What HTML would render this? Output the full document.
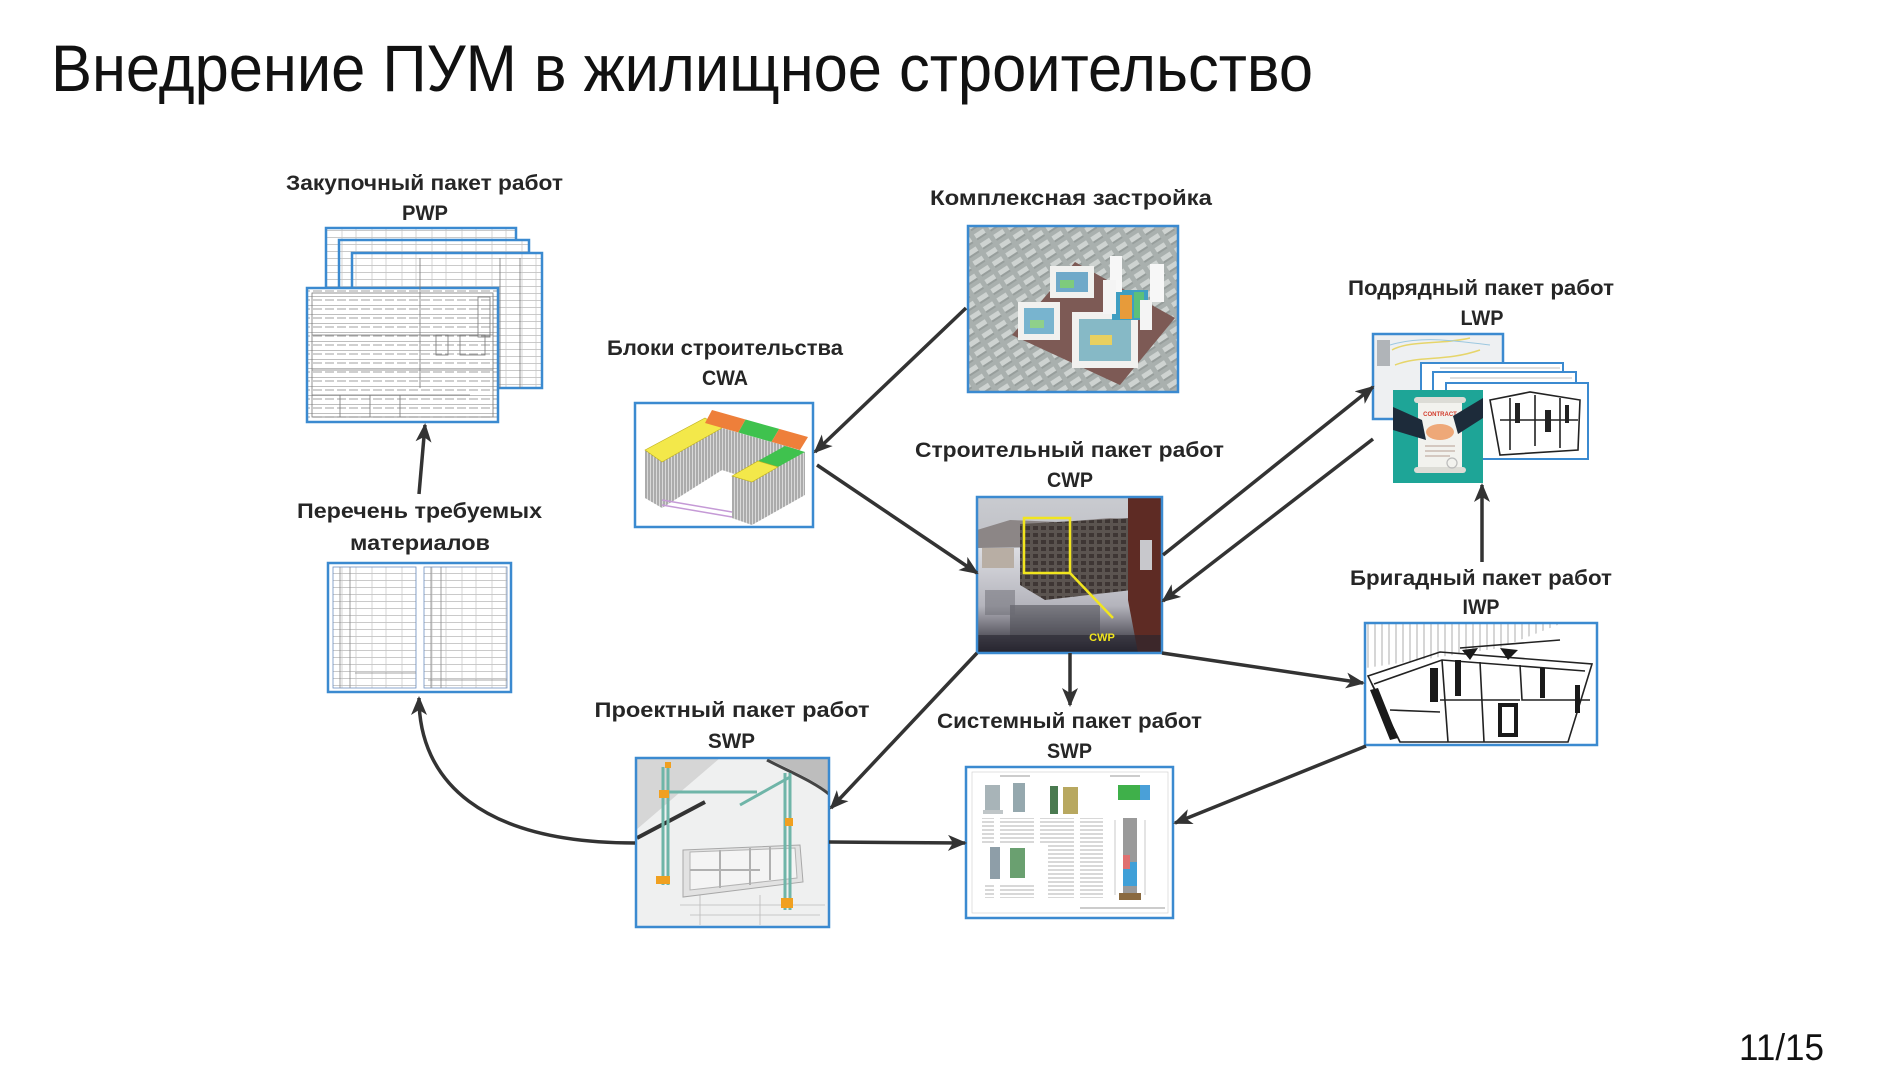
<!DOCTYPE html>
<html><head><meta charset="utf-8">
<style>
html,body{margin:0;padding:0;background:#fff;}
svg{display:block;}
.lb{font-family:"Liberation Sans",sans-serif;font-weight:bold;font-size:21px;fill:#262626;}
</style></head><body>
<svg width="1900" height="1068" viewBox="0 0 1900 1068" xmlns="http://www.w3.org/2000/svg">
<defs>
<marker id="ah" markerUnits="userSpaceOnUse" markerWidth="20" markerHeight="16" refX="17" refY="8" orient="auto" viewBox="0 0 20 16">
<path d="M0,0 L19,8 L0,16 L5,8 Z" fill="#333"/>
</marker>
<pattern id="tbl" width="30" height="7" patternUnits="userSpaceOnUse"><rect width="30" height="7" fill="#fff"/><path d="M0 6.5H30" stroke="#b9b9b9" stroke-width="0.8"/><path d="M12 0V7M26 0V7" stroke="#c4c4c4" stroke-width="0.7"/></pattern>
<pattern id="dense" width="24" height="9" patternUnits="userSpaceOnUse"><rect width="24" height="9" fill="#fff"/><path d="M1 3H10M13 3H22" stroke="#a0a0a0" stroke-width="0.9"/><path d="M0 8.5H24" stroke="#a8a8a8" stroke-width=".7"/></pattern>
<pattern id="city" width="16" height="11" patternUnits="userSpaceOnUse" patternTransform="rotate(-33)"><rect width="16" height="11" fill="#a9b0ae"/><rect x="1" y="1" width="11" height="5" fill="#ced3d1"/><rect x="1" y="6" width="11" height="2" fill="#979e9c"/></pattern>
<pattern id="txt" width="40" height="4" patternUnits="userSpaceOnUse"><path d="M0 2H34" stroke="#b0b0b0" stroke-width="1"/></pattern>
<pattern id="vl" width="7" height="10" patternUnits="userSpaceOnUse"><path d="M3 0V10" stroke="#999" stroke-width=".8"/></pattern>
<pattern id="fac" width="3" height="10" patternUnits="userSpaceOnUse"><rect width="3" height="10" fill="#d9d9d9"/><path d="M1 0V10" stroke="#7d7d7d" stroke-width="1"/></pattern>
<pattern id="win" width="8" height="7" patternUnits="userSpaceOnUse"><rect width="8" height="7" fill="#5b5450"/><rect x="1" y="1" width="5" height="4" fill="#3e3634"/></pattern>
<linearGradient id="sky" x1="0" y1="0" x2="0" y2="1"><stop offset="0" stop-color="#c9cbd0"/><stop offset="1" stop-color="#a9a8ae"/></linearGradient>
<linearGradient id="snow" x1="0" y1="0" x2="0" y2="1"><stop offset="0" stop-color="#dcdde2"/><stop offset="0.55" stop-color="#b4b4bc"/><stop offset="1" stop-color="#26242e"/></linearGradient>
<clipPath id="cwpc"><rect x="977" y="497" width="185" height="156"/></clipPath>
<clipPath id="kc"><rect x="968" y="226" width="210" height="166"/></clipPath>
<clipPath id="pc"><rect x="636" y="758" width="193" height="169"/></clipPath>
<clipPath id="ic"><rect x="1365" y="623" width="232" height="122"/></clipPath>
</defs>

<!-- Title -->
<text x="51" y="91" font-family="Liberation Sans, sans-serif" font-size="66" fill="#111" textLength="1262" lengthAdjust="spacingAndGlyphs">Внедрение ПУМ в жилищное строительство</text>

<!-- Page number -->
<text x="1739" y="1060" font-family="Liberation Sans, sans-serif" font-size="37" fill="#111" textLength="85" lengthAdjust="spacingAndGlyphs">11/15</text>

<!-- Labels -->
<text class="lb" x="424.5" y="190" text-anchor="middle" textLength="277" lengthAdjust="spacingAndGlyphs">Закупочный пакет работ</text>
<text class="lb" x="425" y="220" text-anchor="middle" textLength="46" lengthAdjust="spacingAndGlyphs">PWP</text>
<text class="lb" x="1071" y="205" text-anchor="middle" textLength="282" lengthAdjust="spacingAndGlyphs">Комплексная застройка</text>
<text class="lb" x="1481" y="295" text-anchor="middle" textLength="266" lengthAdjust="spacingAndGlyphs">Подрядный пакет работ</text>
<text class="lb" x="1482" y="325" text-anchor="middle" textLength="43" lengthAdjust="spacingAndGlyphs">LWP</text>
<text class="lb" x="725" y="355" text-anchor="middle" textLength="236" lengthAdjust="spacingAndGlyphs">Блоки строительства</text>
<text class="lb" x="725" y="385" text-anchor="middle" textLength="46" lengthAdjust="spacingAndGlyphs">CWA</text>
<text class="lb" x="1069.5" y="457" text-anchor="middle" textLength="309" lengthAdjust="spacingAndGlyphs">Строительный пакет работ</text>
<text class="lb" x="1070" y="487" text-anchor="middle" textLength="46" lengthAdjust="spacingAndGlyphs">CWP</text>
<text class="lb" x="419.5" y="518" text-anchor="middle" textLength="245" lengthAdjust="spacingAndGlyphs">Перечень требуемых</text>
<text class="lb" x="420" y="550" text-anchor="middle" textLength="140" lengthAdjust="spacingAndGlyphs">материалов</text>
<text class="lb" x="1481" y="585" text-anchor="middle" textLength="262" lengthAdjust="spacingAndGlyphs">Бригадный пакет работ</text>
<text class="lb" x="1481" y="614" text-anchor="middle" textLength="37" lengthAdjust="spacingAndGlyphs">IWP</text>
<text class="lb" x="732" y="717" text-anchor="middle" textLength="275" lengthAdjust="spacingAndGlyphs">Проектный пакет работ</text>
<text class="lb" x="731.5" y="748" text-anchor="middle" textLength="47" lengthAdjust="spacingAndGlyphs">SWP</text>
<text class="lb" x="1069.5" y="728" text-anchor="middle" textLength="265" lengthAdjust="spacingAndGlyphs">Системный пакет работ</text>
<text class="lb" x="1069.5" y="758" text-anchor="middle" textLength="45" lengthAdjust="spacingAndGlyphs">SWP</text>

<!-- PWP stack -->
<g stroke="#3b8ad0" stroke-width="2.5">
<rect x="326" y="228" width="190" height="80" fill="url(#tbl)"/>
<rect x="339" y="240" width="190" height="80" fill="url(#tbl)"/>
<rect x="352" y="253" width="190" height="135" fill="url(#tbl)"/>
<rect x="307" y="288" width="191" height="134" fill="url(#dense)"/>
</g>
<g fill="none" stroke="#777" stroke-width="0.8">
<rect x="312" y="293" width="181" height="124"/>
<rect x="478" y="297" width="12" height="40"/>
<rect x="436" y="335" width="12" height="20"/>
<rect x="460" y="335" width="25" height="20"/>
<path d="M312 335H493M312 370H493M312 395H470M340 395V417M370 395V417M400 395V417"/>
<path d="M420 258V388M500 258V388M520 258V388"/>
</g>

<!-- Комплексная застройка -->
<g clip-path="url(#kc)">
<rect x="968" y="226" width="210" height="166" fill="url(#city)"/>
<polygon points="1012,335 1075,262 1175,318 1120,385" fill="#7d5a55"/>
<rect x="1050" y="266" width="44" height="32" fill="#f1f1ef"/>
<rect x="1056" y="272" width="32" height="20" fill="#6fa9c9"/>
<rect x="1060" y="280" width="14" height="8" fill="#7ecb7c"/>
<rect x="1018" y="302" width="42" height="38" fill="#f1f1ef"/>
<rect x="1024" y="308" width="30" height="26" fill="#78b4cf"/>
<rect x="1030" y="320" width="14" height="8" fill="#8fd08a"/>
<rect x="1072" y="312" width="66" height="56" fill="#f1f1ef"/>
<rect x="1079" y="319" width="52" height="42" fill="#86b9c6"/>
<rect x="1090" y="335" width="22" height="10" fill="#e8d060"/>
<rect x="1112" y="290" width="36" height="30" fill="#3f9ec2"/>
<rect x="1120" y="295" width="12" height="24" fill="#e79b3a"/>
<rect x="1134" y="292" width="10" height="26" fill="#5bc07a"/>
<rect x="1110" y="256" width="12" height="36" fill="#f7f7f7"/>
<rect x="1150" y="264" width="14" height="38" fill="#f7f7f7"/>
<rect x="1103" y="280" width="13" height="34" fill="#f4f4f4"/>
<rect x="1140" y="300" width="12" height="30" fill="#f4f4f4"/>
</g>
<rect x="968" y="226" width="210" height="166" fill="none" stroke="#3b8ad0" stroke-width="2.5"/>

<!-- CWA -->
<rect x="635" y="403" width="178" height="124" fill="#fff" stroke="#3b8ad0" stroke-width="2.5"/>
<polygon points="662,462 722,428 722,470 662,508" fill="url(#fac)"/>
<polygon points="645,450 662,462 662,508 645,498" fill="url(#fac)"/>
<polygon points="645,450 705,418 722,428 662,462" fill="#f3e84a" stroke="#bfb020" stroke-width=".6"/>
<polygon points="722,428 800,450 800,495 722,470" fill="url(#fac)"/>
<polygon points="712,410 745.6,419.5 738.3,432.5 705,423" fill="#ee7f3a"/>
<polygon points="745.6,419.5 779.2,428.9 771.5,441.9 738.3,432.5" fill="#3fc24e"/>
<polygon points="779.2,428.9 808,437 800,450 771.5,441.9" fill="#ee7f3a"/>
<polygon points="752,482 805,452 805,495 752,525" fill="url(#fac)"/>
<polygon points="732,476 752,482 752,525 732,518" fill="url(#fac)"/>
<polygon points="785,446 805,452 778,467 758,461" fill="#3fc24e"/>
<polygon points="758,461 778,467 752,482 732,476" fill="#f3e84a" stroke="#bfb020" stroke-width=".6"/>
<path d="M662,500 L732,512 M662,505 L732,517" stroke="#c59ad6" stroke-width="1.5"/>

<!-- CWP photo -->
<g clip-path="url(#cwpc)">
<rect x="977" y="497" width="185" height="156" fill="url(#sky)"/>
<polygon points="977,530 1010,520 1060,522 1110,518 1140,520 1140,545 977,548" fill="#8c8686"/>
<rect x="977" y="548" width="185" height="105" fill="url(#snow)"/>
<polygon points="1020,524 1130,518 1132,590 1045,600 1020,585" fill="url(#win)"/>
<rect x="982" y="548" width="32" height="20" fill="#b8aea4"/>
<polygon points="1128,497 1162,497 1162,653 1138,653 1128,600" fill="#5e2b24"/>
<rect x="1140" y="540" width="12" height="30" fill="#c8c8cc"/>
<rect x="1010" y="605" width="90" height="35" fill="#4a4a52" opacity=".55"/>
<rect x="985" y="590" width="30" height="25" fill="#6a6a72" opacity=".5"/>
<rect x="977" y="635" width="185" height="18" fill="#26242e" opacity=".6"/>
<rect x="1024" y="518" width="46" height="55" fill="none" stroke="#f1e51e" stroke-width="2.5"/>
<path d="M1070,573 L1113,618" stroke="#f1e51e" stroke-width="2.5"/>
<text x="1102" y="641" text-anchor="middle" font-family="Liberation Sans, sans-serif" font-weight="bold" font-size="11" fill="#f1e51e">CWP</text>
</g>
<rect x="977" y="497" width="185" height="156" fill="none" stroke="#3b8ad0" stroke-width="2.5"/>

<!-- LWP -->
<rect x="1373" y="334" width="130" height="85" fill="#eef0f2" stroke="#3b8ad0" stroke-width="2.5"/>
<rect x="1377" y="340" width="13" height="26" fill="#b0b4b8"/>
<path d="M1392,350 C1410,340 1440,345 1470,338 M1395,365 C1420,355 1445,362 1480,350" stroke="#e6d56a" stroke-width="1.5" fill="none"/>
<path d="M1390,345 C1420,336 1450,340 1490,345" stroke="#9cc8e0" stroke-width="1" fill="none"/>
<g stroke="#3b8ad0" stroke-width="2">
<rect x="1421" y="363" width="142" height="60" fill="#fff"/>
<rect x="1433" y="372" width="143" height="60" fill="#fff"/>
<rect x="1446" y="383" width="142" height="76" fill="#fff"/>
</g>
<path d="M1440,368H1560M1450,378H1572" stroke="#aaa" stroke-width=".8"/>
<g stroke="#222" stroke-width="1.6" fill="none">
<path d="M1490,400 L1530,392 L1580,400 L1578,450 L1500,455 Z"/>
<path d="M1510,398 V450 M1535,395 V446 M1560,398 V448 M1500,420 H1578"/>
</g>
<g fill="#222"><rect x="1515" y="403" width="5" height="20"/><rect x="1545" y="410" width="6" height="22"/><rect x="1565" y="405" width="4" height="18"/></g>
<rect x="1393" y="390" width="90" height="93" fill="#1ea597"/>
<rect x="1418" y="400" width="44" height="70" fill="#f2f2ee"/>
<rect x="1414" y="397" width="52" height="6" rx="3" fill="#dcdcd6"/>
<rect x="1414" y="467" width="52" height="6" rx="3" fill="#dcdcd6"/>
<text x="1440" y="416" text-anchor="middle" font-family="Liberation Sans, sans-serif" font-weight="bold" font-size="6" fill="#d23a2a">CONTRACT</text>
<path d="M1425,446H1455M1425,451H1455M1425,456H1450" stroke="#c9b9b0" stroke-width="1.5"/>
<polygon points="1393,407 1422,420 1426,440 1393,430" fill="#1d2b3a"/>
<polygon points="1483,398 1483,418 1458,434 1453,416" fill="#1d2b3a"/>
<ellipse cx="1440" cy="432" rx="14" ry="8" fill="#eea878"/>
<circle cx="1452" cy="463" r="5" fill="none" stroke="#bbb" stroke-width="1.2"/>

<!-- Перечень -->
<rect x="328" y="563" width="183" height="129" fill="#fff" stroke="#3b8ad0" stroke-width="2.5"/>
<rect x="333" y="567" width="83" height="121" fill="url(#tbl)" stroke="#6c8fc0" stroke-width=".8"/>
<rect x="424" y="567" width="83" height="121" fill="url(#tbl)" stroke="#6c8fc0" stroke-width=".8"/>
<path d="M340,567V688M431,567V688M350,567V688M441,567V688M355,673H416M428,680H507" stroke="#888" stroke-width=".8"/>

<!-- IWP -->
<rect x="1365" y="623" width="232" height="122" fill="#fff"/>
<g clip-path="url(#ic)">
<polygon points="1366,624 1560,624 1500,648 1366,668" fill="url(#vl)"/>
<g stroke="#222" stroke-width="1.6" fill="none">
<polygon points="1368,676 1440,652 1592,664 1568,742 1400,742"/>
<polyline points="1374,684 1442,660 1585,671"/>
<path d="M1442,660 L1448,742 M1480,662 L1484,742 M1520,665 L1522,700 L1590,700 M1440,700 L1520,700 M1400,742 L1372,684"/>
<path d="M1460,648 L1560,640 M1390,710 L1440,712"/>
</g>
<g fill="#1a1a1a">
<polygon points="1370,690 1378,688 1398,738 1390,740"/>
<rect x="1430" y="668" width="8" height="34"/>
<rect x="1455" y="660" width="6" height="36"/>
<polygon points="1462,650 1478,648 1470,660"/>
<polygon points="1500,648 1518,650 1508,660"/>
<rect x="1500" y="705" width="16" height="30" fill="none" stroke="#1a1a1a" stroke-width="4"/>
<rect x="1540" y="668" width="5" height="30"/>
<rect x="1575" y="685" width="5" height="28"/>
</g>
</g>
<rect x="1365" y="623" width="232" height="122" fill="none" stroke="#3b8ad0" stroke-width="2.5"/>

<!-- Project SWP -->
<g clip-path="url(#pc)">
<rect x="636" y="758" width="193" height="169" fill="#eff0f0"/>
<polygon points="636,758 720,758 636,830" fill="#d6d6d6"/>
<path d="M637,838 L705,802" stroke="#333" stroke-width="4"/>
<path d="M767,758 C790,770 815,780 830,793 L830,758 Z" fill="#bdbdbd"/>
<path d="M767,760 C790,772 815,782 830,795" stroke="#444" stroke-width="3" fill="none"/>
<path d="M680,905 H825 M690,915 H820 M700,895 V925 M760,895 V925" stroke="#bbb" stroke-width=".8"/>
<polygon points="683,850 800,845 803,882 683,897" fill="#e2e2e2" stroke="#a8a8a8" stroke-width="1"/>
<polygon points="690,852 795,848 797,878 690,890" fill="#f4f4f4" stroke="#b4b4b4" stroke-width="1"/>
<path d="M720,850 V888 M750,848 V885 M690,870 H760 M770,847 V880" stroke="#b0b0b0" stroke-width="2"/>
<g stroke="#6fb5a8" stroke-width="3" fill="none">
<path d="M663,767 V885 M668,767 V885"/>
<path d="M663,792 H757"/>
<path d="M740,805 L790,777"/>
<path d="M785,773 V910 M790,773 V910"/>
</g>
<g fill="#f0a020">
<rect x="659" y="790" width="10" height="8"/><rect x="656" y="876" width="14" height="8"/><rect x="781" y="898" width="12" height="10"/><rect x="785" y="818" width="8" height="8"/><rect x="665" y="762" width="6" height="6"/>
</g>
</g>
<rect x="636" y="758" width="193" height="169" fill="none" stroke="#3b8ad0" stroke-width="2.5"/>

<!-- System SWP -->
<rect x="966" y="767" width="207" height="151" fill="#fff" stroke="#3b8ad0" stroke-width="2.5"/>
<rect x="972" y="772" width="196" height="141" fill="none" stroke="#ccc" stroke-width=".6"/>
<path d="M1000,776 H1030 M1110,776 H1140" stroke="#999" stroke-width="1"/>
<rect x="985" y="785" width="15" height="27" fill="#a8b4b8"/>
<rect x="1013" y="783" width="12" height="29" fill="#95a8ae"/>
<rect x="983" y="810" width="20" height="4" fill="#c0c6c8"/>
<rect x="1050" y="786" width="8" height="28" fill="#4a7a50"/>
<rect x="1063" y="787" width="15" height="27" fill="#b8a860"/>
<rect x="1118" y="785" width="22" height="15" fill="#3fb04a"/>
<rect x="1140" y="785" width="10" height="15" fill="#4aa0d8"/>
<rect x="982" y="818" width="70" height="26" fill="url(#txt)"/>
<rect x="1048" y="818" width="55" height="80" fill="url(#txt)"/>
<rect x="990" y="847" width="10" height="32" fill="#8e9ea8"/>
<rect x="1010" y="848" width="15" height="30" fill="#6aa070"/>
<rect x="985" y="884" width="50" height="14" fill="url(#txt)"/>
<rect x="1123" y="818" width="14" height="80" fill="#9a9a9a"/>
<rect x="1123" y="862" width="14" height="24" fill="#3fa0d8"/>
<rect x="1123" y="855" width="7" height="14" fill="#e07070"/>
<rect x="1119" y="893" width="22" height="7" fill="#8a6a40"/>
<path d="M1115,820 V895 M1145,820 V895" stroke="#bbb" stroke-width=".8"/>
<path d="M1080,908 H1165" stroke="#999" stroke-width="1"/>

<!-- Arrows -->
<g stroke="#333" stroke-width="3.5" fill="none" marker-end="url(#ah)">
<line x1="419" y1="494" x2="425" y2="425"/>
<line x1="966" y1="308" x2="815" y2="452"/>
<line x1="817" y1="465" x2="977" y2="573"/>
<line x1="1163" y1="555" x2="1373" y2="387"/>
<line x1="1373" y1="439" x2="1163" y2="601"/>
<line x1="1482" y1="562" x2="1482" y2="485"/>
<line x1="1070" y1="653" x2="1070" y2="705"/>
<line x1="1162" y1="653" x2="1363" y2="683"/>
<line x1="1366" y1="746" x2="1175" y2="823"/>
<line x1="977" y1="653" x2="831" y2="808"/>
<line x1="829" y1="842" x2="965" y2="843"/>
<path d="M635,843 C480,843 419,780 419,698"/>
</g>
</svg>
</body></html>
